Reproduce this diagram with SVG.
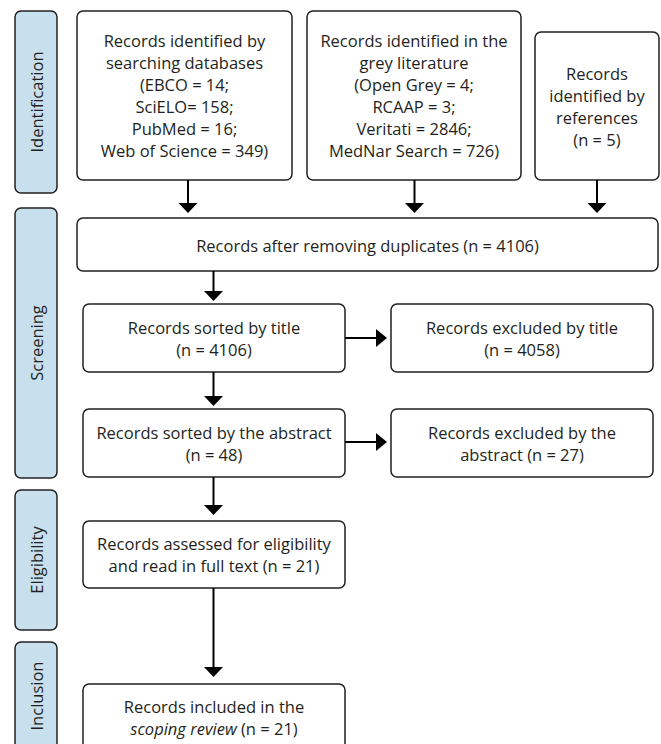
<svg xmlns="http://www.w3.org/2000/svg" width="661" height="744" viewBox="0 0 661 744">
<style>
.box{fill:#ffffff;stroke:#231f20;stroke-width:1.5}
.lab{fill:#c8e0ee;stroke:#231f20;stroke-width:1.5}
text{font-family:"Open Sans","Liberation Sans",sans-serif;font-size:16.5px;fill:#231f20;text-anchor:middle;dominant-baseline:central}
.con line{stroke:#000000;stroke-width:2}
.con path{fill:#000000;stroke:none}
</style>
<rect width="661" height="744" fill="#ffffff"/>
<g id="stage-identification">
<rect class="lab" x="15" y="11" width="42" height="182" rx="6"/>
<text transform="translate(36,102) rotate(-90)">Identification</text>
</g>
<g id="stage-screening">
<rect class="lab" x="15" y="208" width="42" height="270" rx="6"/>
<text transform="translate(36,343) rotate(-90)">Screening</text>
</g>
<g id="stage-eligibility">
<rect class="lab" x="15" y="490" width="42" height="140" rx="6"/>
<text transform="translate(36,560) rotate(-90)">Eligibility</text>
</g>
<g id="stage-inclusion">
<rect class="lab" x="15" y="642" width="42" height="120" rx="6"/>
<text transform="translate(36,696) rotate(-90)">Inclusion</text>
</g>
<g id="node-databases">
<rect class="box" x="77" y="11" width="215" height="169" rx="6"/>
<text x="184.5" y="40.5">Records identified by</text>
<text x="184.5" y="62.5">searching databases</text>
<text x="184.5" y="84.5">(EBCO = 14;</text>
<text x="184.5" y="106.5">SciELO= 158;</text>
<text x="184.5" y="128.5">PubMed = 16;</text>
<text x="184.5" y="150.5">Web of Science = 349)</text>
</g>
<g id="node-grey">
<rect class="box" x="307" y="11" width="214" height="169" rx="6"/>
<text x="414" y="40.5">Records identified in the</text>
<text x="414" y="62.5">grey literature</text>
<text x="414" y="84.5">(Open Grey = 4;</text>
<text x="414" y="106.5">RCAAP = 3;</text>
<text x="414" y="128.5">Veritati = 2846;</text>
<text x="414" y="150.5">MedNar Search = 726)</text>
</g>
<g id="node-references">
<rect class="box" x="535" y="32" width="124" height="148" rx="6"/>
<text x="597" y="73">Records</text>
<text x="597" y="95">identified by</text>
<text x="597" y="117">references</text>
<text x="597" y="139">(n = 5)</text>
</g>
<g id="node-duplicates">
<rect class="box" x="77" y="218" width="581" height="53" rx="6"/>
<text x="367.5" y="245">Records after removing duplicates (n = 4106)</text>
</g>
<g id="node-title">
<rect class="box" x="83" y="304" width="262" height="68" rx="6"/>
<text x="214" y="327">Records sorted by title</text>
<text x="214" y="349">(n = 4106)</text>
</g>
<g id="node-excl-title">
<rect class="box" x="391" y="304" width="262" height="68" rx="6"/>
<text x="522" y="327">Records excluded by title</text>
<text x="522" y="349">(n = 4058)</text>
</g>
<g id="node-abstract">
<rect class="box" x="83" y="409" width="262" height="68" rx="6"/>
<text x="214" y="432">Records sorted by the abstract</text>
<text x="214" y="454">(n = 48)</text>
</g>
<g id="node-excl-abstract">
<rect class="box" x="391" y="409" width="262" height="68" rx="6"/>
<text x="522" y="432">Records excluded by the</text>
<text x="522" y="454">abstract (n = 27)</text>
</g>
<g id="node-eligibility">
<rect class="box" x="83" y="521" width="262" height="67" rx="6"/>
<text x="214" y="543.5">Records assessed for eligibility</text>
<text x="214" y="565.5">and read in full text (n = 21)</text>
</g>
<g id="node-included">
<rect class="box" x="83" y="684" width="262" height="68" rx="6"/>
<text x="214" y="706">Records included in the</text>
<text x="214" y="728"><tspan font-style="italic">scoping review</tspan> (n = 21)</text>
</g>
<g id="connectors" class="con">
<line x1="188" y1="180" x2="188" y2="204"/><path d="M178.5,203 L197.5,203 L188,213 Z"/>
<line x1="414.5" y1="180" x2="414.5" y2="204"/><path d="M405,203 L424,203 L414.5,213 Z"/>
<line x1="597" y1="180" x2="597" y2="204"/><path d="M587.5,203 L606.5,203 L597,213 Z"/>
<line x1="213.5" y1="271" x2="213.5" y2="292"/><path d="M204,291 L223,291 L213.5,301 Z"/>
<line x1="213.5" y1="372" x2="213.5" y2="397"/><path d="M204,396 L223,396 L213.5,406 Z"/>
<line x1="213.5" y1="477" x2="213.5" y2="506"/><path d="M204,505 L223,505 L213.5,515 Z"/>
<line x1="213.5" y1="588" x2="213.5" y2="668"/><path d="M204,667 L223,667 L213.5,677 Z"/>
<line x1="345" y1="338" x2="377" y2="338"/><path d="M376,329 L376,347 L387,338 Z"/>
<line x1="345" y1="442" x2="377" y2="442"/><path d="M376,433 L376,451 L387,442 Z"/>
</g>
</svg>
